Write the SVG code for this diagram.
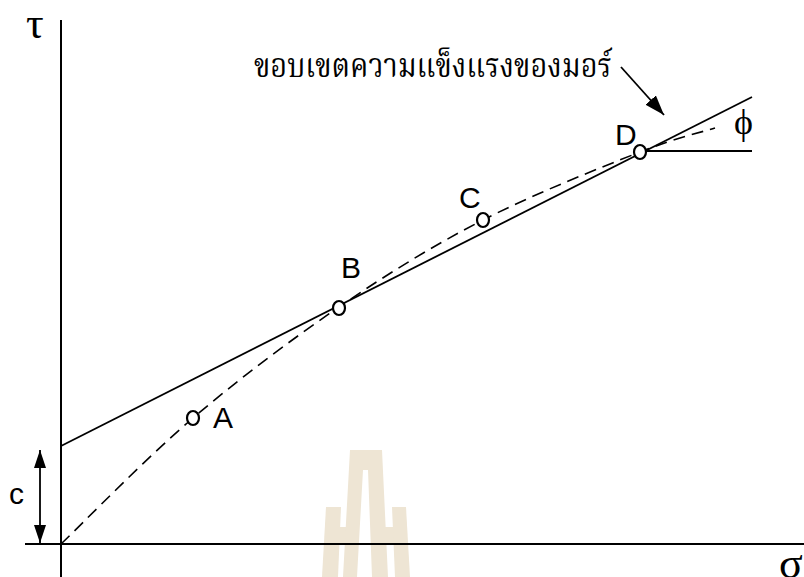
<svg xmlns="http://www.w3.org/2000/svg" width="804" height="577" viewBox="0 0 804 577">
<style>
.ax{stroke:#000;stroke-width:2;fill:none}
.ln{stroke:#000;stroke-width:1.8;fill:none}
.dash{stroke:#000;stroke-width:1.6;fill:none;stroke-dasharray:12 7}
.pt{stroke:#000;stroke-width:2.2;fill:#fff}
.lbl{font-family:"Liberation Sans",Arial,sans-serif;font-size:30px;fill:#000}
.gr{font-family:"Liberation Serif","Times New Roman",serif;fill:#000}
.th{font-family:"Noto Serif Thai","Noto Sans Thai","Loma","Garuda","Tlwg Typo","DejaVu Sans",sans-serif;font-size:34px;fill:#000}
.wm{fill:#EEE5D4}
</style>
<defs>
<marker id="ah" viewBox="0 0 20 14" refX="20" refY="7" markerWidth="20" markerHeight="14" markerUnits="userSpaceOnUse" orient="auto">
<path d="M0,0 L20,7 L0,14 Z" fill="#000"/>
</marker>
<marker id="ah2" viewBox="0 0 18 12" refX="18" refY="6" markerWidth="18" markerHeight="12" markerUnits="userSpaceOnUse" orient="auto-start-reverse">
<path d="M0,0 L18,6 L0,12 Z" fill="#000"/>
</marker>
</defs>
<rect width="804" height="577" fill="#fff"/>
<g id="watermark">
<polygon class="wm" points="326,507 341,507 338,577 322,577"/>
<rect class="wm" x="337" y="527" width="12" height="16"/>
<polygon class="wm" points="350,450 382,450 388,577 372,577 368,470 363,470 357,577 343,577"/>
<rect class="wm" x="384" y="527" width="12" height="16"/>
<polygon class="wm" points="392,507 406,507 410,577 395,577"/>
</g>
<g id="axes">
<line class="ax" x1="61" y1="20" x2="61" y2="577"/>
<line class="ax" x1="25" y1="544" x2="804" y2="544"/>
<text class="gr" x="26" y="38" font-size="44">τ</text>
<text class="gr" x="779" y="578" font-size="44">σ</text>
</g>
<g id="connectors">
<line class="ln" x1="61" y1="446" x2="752" y2="97"/>
<line class="ln" x1="646" y1="151" x2="752" y2="151"/>
<path class="dash" d="M61,544 C83,523 146.7,457.5 193,418 C239.3,378.5 290.7,340 339,307 C387.3,274 432.8,245.8 483,220 C533.2,194.2 601.3,167.3 640,152 C678.7,136.7 702.5,132 715,128"/>
<line class="ln" x1="621" y1="67" x2="664" y2="115" marker-end="url(#ah)"/>
<line class="ln" x1="40" y1="450" x2="40" y2="543" marker-start="url(#ah2)" marker-end="url(#ah2)"/>
</g>
<g id="pointA">
<ellipse class="pt" cx="193" cy="418" rx="6" ry="7"/>
<text class="lbl" x="213" y="428">A</text>
</g>
<g id="pointB">
<ellipse class="pt" cx="339" cy="308" rx="6" ry="7"/>
<text class="lbl" x="341" y="278">B</text>
</g>
<g id="pointC">
<ellipse class="pt" cx="483" cy="220" rx="6" ry="7"/>
<text class="lbl" x="459" y="208">C</text>
</g>
<g id="pointD">
<ellipse class="pt" cx="640" cy="152" rx="6" ry="7"/>
<text class="lbl" x="615" y="145">D</text>
</g>
<g id="labels">
<text class="gr" x="734" y="134" font-size="36">ϕ</text>
<text class="lbl" x="9" y="504" font-size="34">c</text>
<text class="th" x="254" y="77" textLength="358" lengthAdjust="spacingAndGlyphs">ขอบเขตความแข็งแรงของมอร์</text>
</g>
</svg>
